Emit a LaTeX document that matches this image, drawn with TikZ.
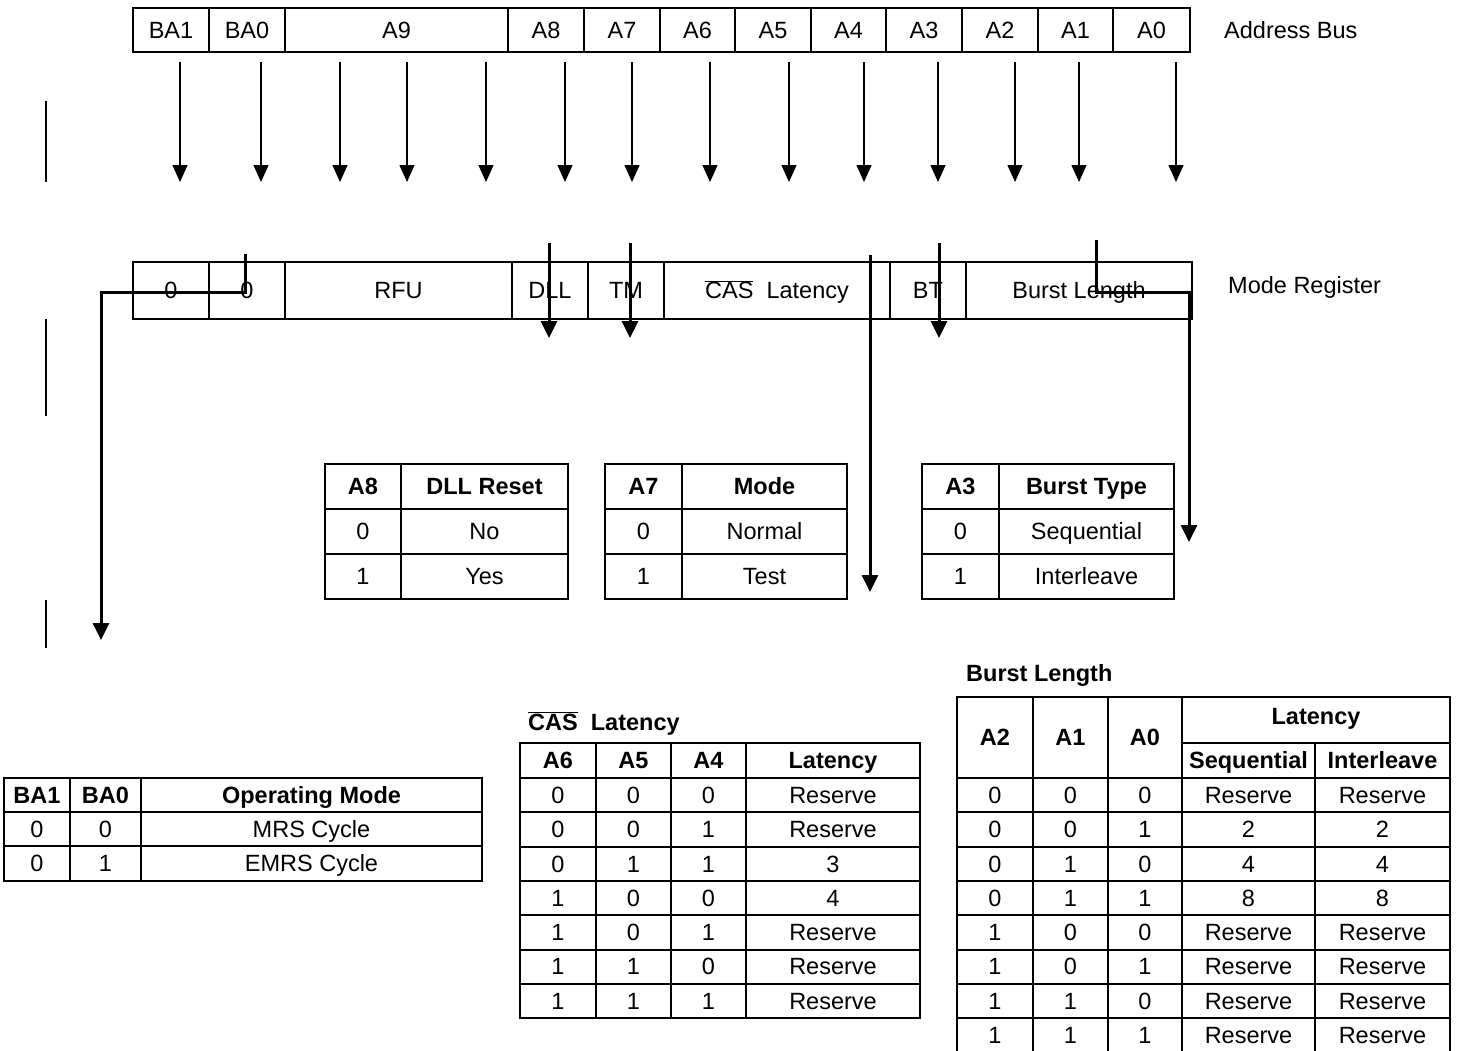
\documentclass[tikz,border=0pt]{standalone}
\usepackage{fontspec}
\setmainfont{Liberation Sans}
\usetikzlibrary{arrows.meta}
\newcommand\fs{\fontsize{23.5}{28}\selectfont}
\newcommand\ovl[1]{$\overline{\hbox{#1}}$}
\tikzset{
  cellbox/.style={draw, line width=2pt, inner sep=0pt, font=\fs, text height=22pt, text depth=5.5pt},
  hdrbox/.style={cellbox, font=\fs\bfseries},
  lbl/.style={inner sep=0pt, font=\fs, text height=22pt, text depth=5.5pt},
  busarrow/.style={line width=1.3pt, -{Triangle[width=15pt,length=17pt]}},
  connline/.style={line width=3pt},
  connarrow/.style={line width=3pt, -{Triangle[width=16pt,length=17pt]}},
  tickline/.style={line width=2pt},
}
% \cellat[style]{name}{x1}{y1}{x2}{y2}{text}
\newcommand\cellat[7][cellbox]{%
  \node[#1, minimum width={(#5)-(#3)}, minimum height={(#6)-(#4)}] (#2)
    at ({((#3)+(#5))/2},{((#4)+(#6))/2}) {#7};}
\begin{document}
\begin{tikzpicture}[x=1pt,y=-1pt]
\fill[white] (0,0) rectangle (1469,1050);
\clip (0,0) rectangle (1469,1050);

% ---------- Address bus ----------
\foreach \nm/\xa/\xb/\tx in {ba1/133/209/BA1, ba0/209/285/BA0, a9/285/508/A9, a8/508/584/A8,
  a7/584/660/A7, a6/660/735/A6, a5/735/811/A5, a4/811/886/A4, a3/886/962/A3,
  a2/962/1038/A2, a1/1038/1113/A1, a0/1113/1190/A0}
  {\cellat{bus-\nm}{\xa}{8}{\xb}{52}{\tx}}
\node[lbl, anchor=west] (addrlbl) at (1224,30) {Address Bus};

% ---------- Mode register ----------
\cellat{mr-ba1}{133}{262}{209}{319}{0}
\cellat{mr-ba0}{209}{262}{285}{319}{0}
\cellat{mr-rfu}{285}{262}{512}{319}{RFU}
\cellat{mr-dll}{512}{262}{588}{319}{DLL}
\cellat{mr-tm}{588}{262}{664}{319}{TM}
\cellat{mr-cas}{664}{262}{890}{319}{\ovl{CAS}~~Latency}
\cellat{mr-bt}{890}{262}{966}{319}{BT}
\cellat{mr-bl}{966}{262}{1192}{319}{Burst Length}
\node[lbl, anchor=west] (mrlbl) at (1228,285) {Mode Register};

% ---------- bus arrows ----------
\foreach \i/\x in {1/180, 2/261, 3/340, 4/407, 5/486, 6/565, 7/632, 8/710,
  9/789, 10/864, 11/938, 12/1015, 13/1079, 14/1176}
{
  \coordinate (bs\i) at (\x,62);
  \coordinate (be\i) at (\x,182);
  \draw[busarrow] (bs\i) -- (be\i);
}

% ---------- left ticks ----------
\coordinate (tk1a) at (46,101); \coordinate (tk1b) at (46,182);
\coordinate (tk2a) at (46,319); \coordinate (tk2b) at (46,416);
\coordinate (tk3a) at (46,600); \coordinate (tk3b) at (46,648);
\draw[tickline] (tk1a) -- (tk1b);
\draw[tickline] (tk2a) -- (tk2b);
\draw[tickline] (tk3a) -- (tk3b);

% ---------- small tables ----------
\cellat[hdrbox]{t8h1}{325}{464}{401}{509}{A8}
\cellat[hdrbox]{t8h2}{401}{464}{568}{509}{DLL Reset}
\cellat{t8r1a}{325}{509}{401}{554}{0}
\cellat{t8r1b}{401}{509}{568}{554}{No}
\cellat{t8r2a}{325}{554}{401}{599}{1}
\cellat{t8r2b}{401}{554}{568}{599}{Yes}

\cellat[hdrbox]{t7h1}{605}{464}{682}{509}{A7}
\cellat[hdrbox]{t7h2}{682}{464}{847}{509}{Mode}
\cellat{t7r1a}{605}{509}{682}{554}{0}
\cellat{t7r1b}{682}{509}{847}{554}{Normal}
\cellat{t7r2a}{605}{554}{682}{599}{1}
\cellat{t7r2b}{682}{554}{847}{599}{Test}

\cellat[hdrbox]{t3h1}{922}{464}{999}{509}{A3}
\cellat[hdrbox]{t3h2}{999}{464}{1174}{509}{Burst Type}
\cellat{t3r1a}{922}{509}{999}{554}{0}
\cellat{t3r1b}{999}{509}{1174}{554}{Sequential}
\cellat{t3r2a}{922}{554}{999}{599}{1}
\cellat{t3r2b}{999}{554}{1174}{599}{Interleave}

% ---------- operating mode table ----------
\cellat[hdrbox]{omh1}{4}{778}{70}{812}{BA1}
\cellat[hdrbox]{omh2}{70}{778}{141}{812}{BA0}
\cellat[hdrbox]{omh3}{141}{778}{482}{812}{Operating Mode}
\cellat{om1a}{4}{812}{70}{846}{0}
\cellat{om1b}{70}{812}{141}{846}{0}
\cellat{om1c}{141}{812}{482}{846}{MRS Cycle}
\cellat{om2a}{4}{846}{70}{881}{0}
\cellat{om2b}{70}{846}{141}{881}{1}
\cellat{om2c}{141}{846}{482}{881}{EMRS Cycle}

% ---------- CAS latency table ----------
\node[lbl, anchor=west, font=\fs\bfseries] (castitle) at (528,722) {\ovl{CAS}~~Latency};
\cellat[hdrbox]{cash1}{520}{743}{596}{778}{A6}
\cellat[hdrbox]{cash2}{596}{743}{671}{778}{A5}
\cellat[hdrbox]{cash3}{671}{743}{746}{778}{A4}
\cellat[hdrbox]{cash4}{746}{743}{920}{778}{Latency}
\foreach \a/\b/\c/\d [count=\i] in {0/0/0/Reserve, 0/0/1/Reserve, 0/1/1/3, 1/0/0/4,
  1/0/1/Reserve, 1/1/0/Reserve, 1/1/1/Reserve}
{
  \pgfmathsetmacro\ya{778+(\i-1)*34.3}
  \pgfmathsetmacro\yb{778+\i*34.3}
  \cellat{cas\i a}{520}{\ya}{596}{\yb}{\a}
  \cellat{cas\i b}{596}{\ya}{671}{\yb}{\b}
  \cellat{cas\i c}{671}{\ya}{746}{\yb}{\c}
  \cellat{cas\i d}{746}{\ya}{920}{\yb}{\d}
}

% ---------- Burst length table ----------
\node[lbl, anchor=west, font=\fs\bfseries] (bltitle) at (966,673) {Burst Length};
\cellat[hdrbox]{blh1}{957}{697}{1033}{778}{A2}
\cellat[hdrbox]{blh2}{1033}{697}{1108}{778}{A1}
\cellat[hdrbox]{blh3}{1108}{697}{1182}{778}{A0}
\node[hdrbox, minimum width=268, minimum height=46] (blh4) at (1316,720) {\raisebox{4pt}{Latency}};
\cellat[hdrbox]{blh5}{1182}{743}{1315}{778}{Sequential}
\cellat[hdrbox]{blh6}{1315}{743}{1450}{778}{Interleave}
\foreach \a/\b/\c/\d [count=\i] in {0/0/0/Reserve, 0/0/1/2, 0/1/0/4, 0/1/1/8,
  1/0/0/Reserve, 1/0/1/Reserve, 1/1/0/Reserve, 1/1/1/Reserve}
{
  \pgfmathsetmacro\ya{778+(\i-1)*34.3}
  \pgfmathsetmacro\yb{778+\i*34.3}
  \cellat{bl\i a}{957}{\ya}{1033}{\yb}{\a}
  \cellat{bl\i b}{1033}{\ya}{1108}{\yb}{\b}
  \cellat{bl\i c}{1108}{\ya}{1182}{\yb}{\c}
  \cellat{bl\i d}{1182}{\ya}{1315}{\yb}{\d}
  \cellat{bl\i e}{1315}{\ya}{1450}{\yb}{\d}
}

% ---------- connectors (on top) ----------
\coordinate (c0s) at (245,254); \coordinate (c0k1) at (245,292);
\coordinate (c0k2) at (101,292); \coordinate (c0e) at (101,640);
\draw[connarrow] (c0s) -- (c0k1) -- (c0k2) -- (c0e);

\coordinate (cdlls) at (549,243); \coordinate (cdlle) at (549,338);
\draw[connarrow] (cdlls) -- (cdlle);
\coordinate (ctms) at (630,243); \coordinate (ctme) at (630,338);
\draw[connarrow] (ctms) -- (ctme);
\coordinate (ccass) at (870,255); \coordinate (ccase) at (870,592);
\draw[connarrow] (ccass) -- (ccase);
\coordinate (cbts) at (939,243); \coordinate (cbte) at (939,338);
\draw[connarrow] (cbts) -- (cbte);
\coordinate (cbls) at (1096,240); \coordinate (cblk1) at (1096,292);
\coordinate (cblk2) at (1189,292); \coordinate (cble) at (1189,542);
\draw[connarrow] (cbls) -- (cblk1) -- (cblk2) -- (cble);
\end{tikzpicture}
\end{document}
